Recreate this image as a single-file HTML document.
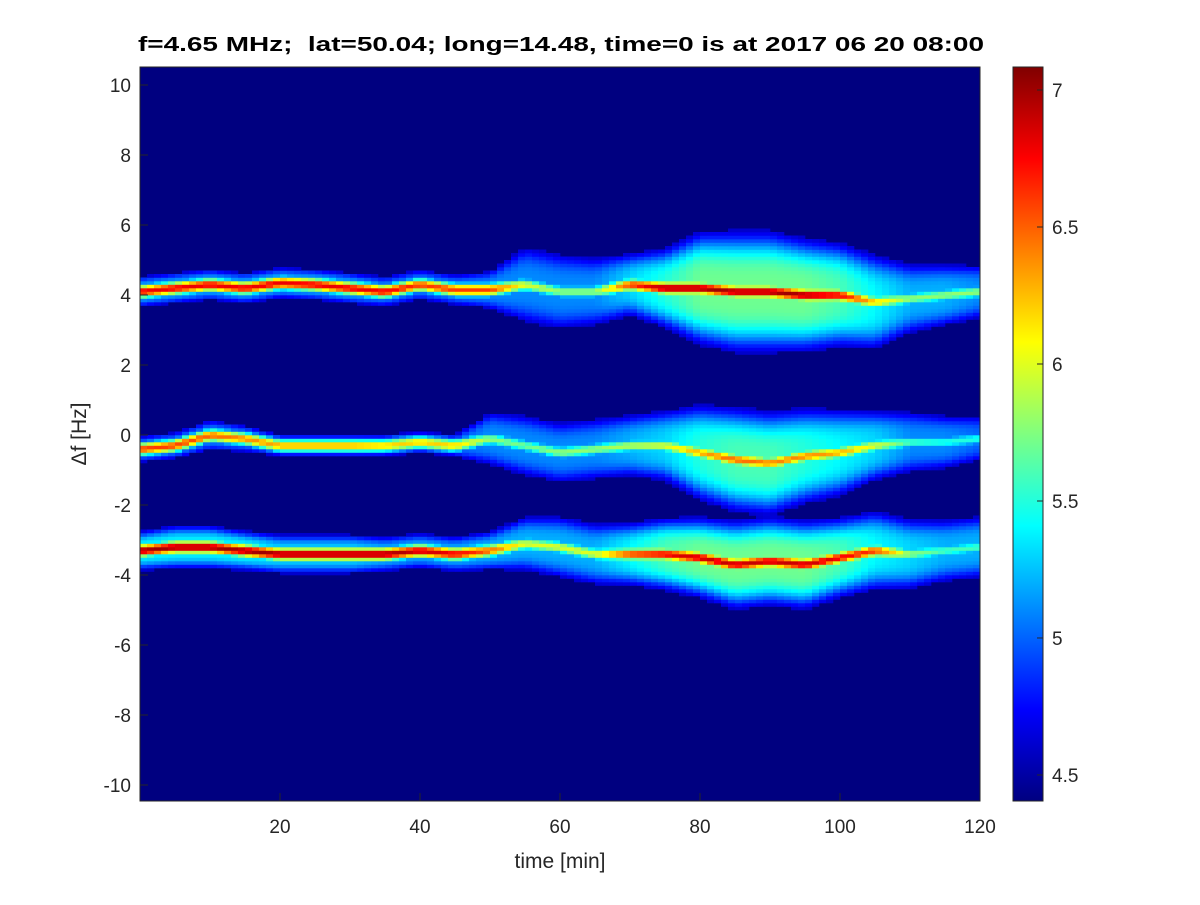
<!DOCTYPE html>
<html><head><meta charset="utf-8"><style>
body{margin:0;background:#fff;}
svg text{font-family:"Liberation Sans",sans-serif;fill:#262626;}
</style></head><body>
<svg id="chart" width="1200" height="900" xmlns="http://www.w3.org/2000/svg">
<rect width="1200" height="900" fill="#fff"/>
<text x="138" y="51" font-size="20" font-weight="bold" textLength="846" lengthAdjust="spacingAndGlyphs" style="fill:#000;white-space:pre" xml:space="preserve">f=4.65 MHz;  lat=50.04; long=14.48, time=0 is at 2017 06 20 08:00</text>
<defs>
<clipPath id="pc"><rect x="140" y="67" width="840" height="734"/></clipPath>
<linearGradient id="jet" x1="0" y1="1" x2="0" y2="0">
<stop offset="0" stop-color="#000080"/><stop offset="0.125" stop-color="#0000ff"/><stop offset="0.375" stop-color="#00ffff"/><stop offset="0.625" stop-color="#ffff00"/><stop offset="0.875" stop-color="#ff0000"/><stop offset="1" stop-color="#800000"/>
</linearGradient>
</defs>
<rect x="140" y="67" width="840" height="734" fill="#000080"/>
<g id="cells" clip-path="url(#pc)"></g>
<rect x="140" y="67" width="840" height="734" fill="none" stroke="#262626" stroke-width="1"/>
<g id="axes"></g>
<rect x="1013" y="67" width="30" height="734" fill="url(#jet)" stroke="#262626" stroke-width="1"/>
<g id="cbticks"></g>
<text x="560" y="868" font-size="21" text-anchor="middle">time [min]</text>
<text transform="translate(86,434) rotate(-90)" font-size="21" text-anchor="middle">Δf [Hz]</text>
</svg>
<script>
const times=[0,5,10,15,20,25,30,35,40,45,50,55,60,65,70,75,80,85,90,95,100,105,110,115,120];
const b1Center=[4.1,4.2,4.3,4.2,4.35,4.3,4.2,4.1,4.3,4.15,4.15,4.3,4.1,4.1,4.3,4.2,4.2,4.1,4.1,4.0,4.0,3.8,3.9,4.0,4.1];
const b1Width=[0.4,0.4,0.4,0.4,0.4,0.4,0.4,0.4,0.4,0.4,0.5,1.0,1.0,0.9,0.8,1.0,1.4,1.5,1.5,1.4,1.3,1.2,0.9,0.8,0.7];
const b1Env=[5.2,5.2,5.2,5.2,5.2,5.2,5.2,5.1,5.1,5.1,5.1,5.1,5.1,5.1,5.3,5.5,5.7,5.7,5.7,5.7,5.6,5.4,5.2,5.2,5.1];
const b1Peak=[6.8,6.8,6.8,6.8,6.8,6.8,6.8,6.8,6.6,6.6,6.6,6.0,5.8,5.8,6.6,7.0,7.0,7.0,7.0,7.0,6.8,6.2,5.8,5.8,5.8];
const b2Center=[-0.4,-0.3,0.0,-0.1,-0.3,-0.3,-0.3,-0.3,-0.2,-0.3,-0.1,-0.3,-0.5,-0.4,-0.3,-0.3,-0.5,-0.7,-0.8,-0.6,-0.5,-0.3,-0.2,-0.2,-0.1];
const b2Width=[0.35,0.35,0.4,0.35,0.3,0.3,0.3,0.3,0.3,0.3,0.7,0.8,0.8,0.8,0.8,0.9,1.2,1.3,1.3,1.2,1.1,0.9,0.8,0.7,0.6];
const b2Env=[5.1,5.1,5.1,5.1,5.0,5.0,5.0,5.0,5.0,5.0,5.1,5.1,5.1,5.1,5.2,5.3,5.5,5.6,5.6,5.5,5.4,5.3,5.1,5.1,5.0];
const b2Peak=[6.6,6.6,6.5,6.4,6.3,6.3,6.3,6.2,6.2,6.2,5.8,5.7,5.8,5.8,5.9,6.0,6.3,6.5,6.4,6.4,6.3,6.0,5.6,5.5,5.5];
const b3Center=[-3.3,-3.2,-3.2,-3.3,-3.4,-3.4,-3.4,-3.4,-3.3,-3.4,-3.3,-3.1,-3.2,-3.4,-3.4,-3.4,-3.5,-3.7,-3.6,-3.7,-3.5,-3.3,-3.4,-3.3,-3.2];
const b3Width=[0.5,0.55,0.55,0.5,0.5,0.5,0.5,0.45,0.45,0.45,0.5,0.7,0.8,0.8,0.8,0.9,1.0,1.1,1.1,1.1,1.0,1.0,0.9,0.8,0.8];
const b3Env=[5.4,5.4,5.4,5.4,5.3,5.3,5.3,5.2,5.2,5.2,5.2,5.2,5.2,5.2,5.4,5.6,5.7,5.7,5.7,5.7,5.6,5.4,5.3,5.2,5.2];
const b3Peak=[7.0,7.0,7.0,7.0,7.0,7.0,7.0,7.0,6.9,6.8,6.5,6.0,6.0,6.0,6.6,6.8,6.9,6.9,6.9,6.9,6.8,6.6,5.8,5.6,5.6];
const xTicks=[20,40,60,80,100,120];
const yTicks=[10,8,6,4,2,0,-2,-4,-6,-8,-10];
const cTicks=[4.5,5,5.5,6,6.5,7];

const NS="http://www.w3.org/2000/svg";
const X0=140,PX=7,Y0=435,PY=35,CMIN=4.405,CMAX=7.084;
const xs=t=>X0+t*PX, ys=f=>Y0-f*PY, cs=v=>801-(v-CMIN)/(CMAX-CMIN)*734;
function interp(arr,t){let i=Math.min(Math.floor(t/5),arr.length-2);let a=(t-times[i])/5;return arr[i]*(1-a)+arr[i+1]*a;}
function jet(v){let x=Math.max(0,Math.min(1,(v-CMIN)/(CMAX-CMIN)));const c=k=>Math.round(255*Math.max(0,Math.min(1,1.5-Math.abs(4*x-k))));return `rgb(${c(3)},${c(2)},${c(1)})`;}
const bands=[[b1Center,b1Width,b1Env,b1Peak],[b2Center,b2Width,b2Env,b2Peak],[b3Center,b3Width,b3Env,b3Peak]];
const g=document.getElementById('cells');
for(let t=0;t<120;t+=1){
  const tm=t+0.5;
  for(let f=-10.5;f<10.5;f+=0.1){
    let v=4.4;
    for(const b of bands){
      const c=interp(b[0],tm),w=interp(b[1],tm),e=interp(b[2],tm),p=interp(b[3],tm);
      const d=f+0.05-c;
      const env=4.4+(e-4.4)*Math.exp(-Math.pow(Math.abs(d)/w,4));
      const core=4.4+(p-4.4)*Math.exp(-Math.pow(d/0.2,2));
      v=Math.max(v,env,core);
    }
    if(v<4.6)continue;
    const r=document.createElementNS(NS,'rect');
    
    
    r.setAttribute('x',xs(t));r.setAttribute('y',ys(f+0.1));
    r.setAttribute('width',PX+0.3);r.setAttribute('height',PY*0.1+0.3);
    r.setAttribute('fill',jet(v));
    g.appendChild(r);
  }
}
const ax=document.getElementById('axes');
function mk(tag,attrs,txt){const e=document.createElementNS(NS,tag);for(const k in attrs)e.setAttribute(k,attrs[k]);if(txt!==undefined)e.textContent=txt;return e;}
for(const t of xTicks){
  const l=mk('line',{x1:xs(t),x2:xs(t),y1:801,y2:793,stroke:'#262626'});
  
  
  ax.appendChild(l);
  const tx=mk('text',{x:xs(t),y:833,'font-size':19,'text-anchor':'middle'},t);
  
  
  ax.appendChild(tx);
}
for(const f of yTicks){
  const l=mk('line',{x1:140,x2:148,y1:ys(f),y2:ys(f),stroke:'#262626'});
  
  
  ax.appendChild(l);
  const tx=mk('text',{x:131,y:ys(f)+7,'font-size':19,'text-anchor':'end'},f);
  
  
  ax.appendChild(tx);
}
const cb=document.getElementById('cbticks');
for(const v of cTicks){
  const l=mk('line',{x1:1037,x2:1043,y1:cs(v),y2:cs(v),stroke:'#262626'});
  
  
  cb.appendChild(l);
  const tx=mk('text',{x:1052,y:cs(v)+7,'font-size':19},v);
  
  
  cb.appendChild(tx);
}
</script>
</body></html>
